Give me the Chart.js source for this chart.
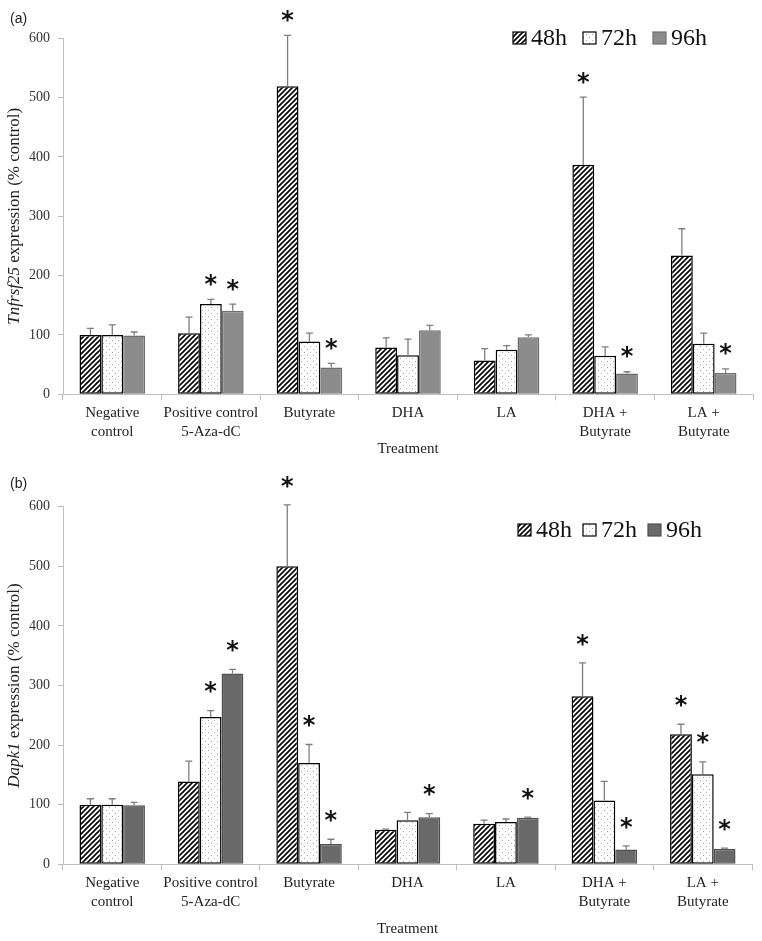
<!DOCTYPE html>
<html>
<head>
<meta charset="utf-8">
<script src="https://cdn.jsdelivr.net/npm/chart.js@4.4.1/dist/chart.umd.min.js"></script>
<style>
  html, body { margin: 0; padding: 0; background: #fff; }
  .panel { position: relative; width: 762px; }
  #wrapA { height: 470px; }
  #wrapB { height: 471px; }
</style>
</head>
<body>
<div class="panel" id="wrapA"><canvas id="chartA"></canvas></div>
<div class="panel" id="wrapB"><canvas id="chartB"></canvas></div>
<script>
// categories and series
const treatments = [['Negative', 'control'], ['Positive control', '5-Aza-dC'], 'Butyrate', 'DHA', 'LA', ['DHA +', 'Butyrate'], ['LA +', 'Butyrate']];
const timePoints = ['48h', '72h', '96h'];
const yTicks = [0, 100, 200, 300, 400, 500, 600];

// (a) Tnfrsf25 expression (% control), mean and upper error
const tnf48 = [100, 103, 519, 79, 57, 387, 234];
const tnf48Err = [11, 27, 86, 16, 20, 114, 45];
const tnf72 = [100, 152, 89, 66, 75, 65, 85];
const tnf72Err = [17, 8, 14, 27, 7, 15, 18];
const tnf96 = [99, 141, 45, 108, 96, 35, 36];
const tnf96Err = [6, 11, 7, 8, 4, 3, 7];
const tnf48Star = [0, 0, 1, 0, 0, 1, 0];
const tnf72Star = [0, 1, 0, 0, 0, 0, 0];
const tnf96Star = [0, 1, 1, 0, 0, 1, 1];

// (b) Dapk1 expression (% control)
const dapk48 = [100, 139, 500, 58, 68, 282, 218];
const dapk48Err = [10, 34, 103, 1, 6, 56, 17];
const dapk72 = [100, 247, 170, 74, 71, 107, 151];
const dapk72Err = [10, 11, 31, 13, 5, 32, 21];
const dapk96 = [99, 320, 34, 79, 78, 25, 26];
const dapk96Err = [5, 7, 8, 6, 1, 6, 1];
const dapk48Star = [0, 0, 1, 0, 0, 1, 1];
const dapk72Star = [0, 1, 1, 0, 0, 0, 1];
const dapk96Star = [0, 1, 1, 1, 1, 1, 1];

// fill patterns
function hatchPattern() {
    const c = document.createElement('canvas');
    c.width = 5; c.height = 5;
    const g = c.getContext('2d');
    g.fillStyle = '#fff';
    g.fillRect(0, 0, 5, 5);
    g.strokeStyle = '#000';
    g.lineWidth = 1.6;
    g.beginPath();
    g.moveTo(-1, 6); g.lineTo(6, -1);
    g.moveTo(-1, 1); g.lineTo(1, -1);
    g.moveTo(4, 6); g.lineTo(6, 4);
    g.stroke();
    return g.createPattern(c, 'repeat');
}
function dotPattern() {
    const c = document.createElement('canvas');
    c.width = 6; c.height = 6;
    const g = c.getContext('2d');
    g.fillStyle = '#fff';
    g.fillRect(0, 0, 6, 6);
    g.fillStyle = '#a8a8a8';
    g.fillRect(1, 1, 1, 1);
    g.fillRect(4, 4, 1, 1);
    return g.createPattern(c, 'repeat');
}

const serif = '"Liberation Serif", "Times New Roman", serif';

// error bars, asterisks, legend, axis title and panel letter
const panelExtras = {
    id: 'panelExtras',
    afterDatasetsDraw(chart, args, opts) {
        const ctx = chart.ctx;
        const yScale = chart.scales.y;
        ctx.save();
        chart.data.datasets.forEach((ds, i) => {
            const meta = chart.getDatasetMeta(i);
            meta.data.forEach((bar, j) => {
                const top = yScale.getPixelForValue(ds.data[j] + ds.errors[j]);
                ctx.strokeStyle = '#7f7f7f';
                ctx.lineWidth = 1.3;
                ctx.beginPath();
                ctx.moveTo(bar.x, bar.y);
                ctx.lineTo(bar.x, top);
                ctx.moveTo(bar.x - 3.5, top);
                ctx.lineTo(bar.x + 3.5, top);
                ctx.stroke();
                if (ds.stars[j]) {
                    ctx.fillStyle = '#111';
                    ctx.font = 'bold 24px "DejaVu Sans"';
                    ctx.textAlign = 'center';
                    ctx.textBaseline = 'alphabetic';
                    ctx.fillText('*', bar.x, top - opts.starGap + 13.7);
                }
            });
        });
        ctx.restore();
    },
    afterDraw(chart, args, opts) {
        const ctx = chart.ctx;
        const area = chart.chartArea;
        ctx.save();
        // legend
        let x = opts.legendX;
        ctx.font = '24px ' + serif;
        ctx.textBaseline = 'middle';
        ctx.textAlign = 'left';
        chart.data.datasets.forEach(ds => {
            ctx.fillStyle = ds.backgroundColor;
            ctx.fillRect(x, opts.legendY - 6, 13, 12);
            ctx.strokeStyle = ds.borderColor;
            ctx.lineWidth = 1.2;
            ctx.strokeRect(x, opts.legendY - 6, 13, 12);
            ctx.fillStyle = '#111';
            ctx.fillText(ds.label, x + 18, opts.legendY + 1);
            x += 18 + ctx.measureText(ds.label).width + opts.legendGap;
        });
        // y axis title with italic gene name
        ctx.translate(15, (area.top + area.bottom) / 2);
        ctx.rotate(-Math.PI / 2);
        ctx.fillStyle = '#222';
        ctx.font = 'italic 17px ' + serif;
        const w1 = ctx.measureText(opts.gene).width;
        ctx.font = '17px ' + serif;
        const rest = ' expression (% control)';
        const w2 = ctx.measureText(rest).width;
        const sx = -(w1 + w2) / 2;
        ctx.font = 'italic 17px ' + serif;
        ctx.fillText(opts.gene, sx, 0);
        ctx.font = '17px ' + serif;
        ctx.fillText(rest, sx + w1, 0);
        ctx.setTransform(1, 0, 0, 1, 0, 0);
        // panel letter
        ctx.font = '14px "Liberation Sans", Arial, sans-serif';
        ctx.fillStyle = '#222';
        ctx.textBaseline = 'middle';
        ctx.fillText(opts.letter, 10, opts.letterY);
        ctx.restore();
    }
};

function makeChart(id, series, errs, stars, darkGray, cfg) {
    const fills = [hatchPattern(), dotPattern(), darkGray.fill];
    const borders = ['#000', '#000', darkGray.border];
    const datasets = timePoints.map((tp, i) => ({
        label: tp,
        data: series[i],
        errors: errs[i],
        stars: stars[i],
        backgroundColor: fills[i],
        borderColor: borders[i],
        borderWidth: 1.5,
        borderSkipped: false,
        categoryPercentage: 0.665,
        barPercentage: 1.0
    }));
    return new Chart(document.getElementById(id), {
        type: 'bar',
        data: { labels: treatments, datasets: datasets },
        options: {
            responsive: true,
            maintainAspectRatio: false,
            animation: false,
            layout: { padding: { top: cfg.top, right: cfg.right, left: 0, bottom: 0 } },
            plugins: {
                legend: { display: false },
                tooltip: { enabled: false },
                panelExtras: cfg.extras
            },
            scales: {
                x: {
                    grid: { display: true, drawOnChartArea: false, offset: true, tickLength: 6, color: '#bfbfbf' },
                    border: { display: true, color: '#bfbfbf', width: 1 },
                    ticks: { font: { family: serif, size: 15, lineHeight: 1.22 }, color: '#222', padding: 4, maxRotation: 0, autoSkip: false },
                    title: { display: true, text: 'Treatment', font: { family: serif, size: 15, lineHeight: 1.2 }, color: '#222', padding: { top: 0, bottom: cfg.titlePad } },
                    afterFit(scale) { scale.height = cfg.xHeight; }
                },
                y: {
                    min: 0,
                    max: 600,
                    afterBuildTicks(scale) { scale.ticks = yTicks.map(v => ({ value: v })); },
                    grid: { display: true, drawOnChartArea: false, tickLength: 5, color: '#bfbfbf' },
                    border: { display: true, color: '#bfbfbf', width: 1 },
                    ticks: { font: { family: serif, size: 14 }, color: '#333', padding: 8 },
                    afterFit(scale) { scale.width = 63; }
                }
            }
        },
        plugins: [panelExtras]
    });
}

makeChart('chartA',
    [tnf48, tnf72, tnf96], [tnf48Err, tnf72Err, tnf96Err], [tnf48Star, tnf72Star, tnf96Star],
    { fill: '#8c8c8c', border: '#6e6e6e' },
    { top: 38.3, right: 9, xHeight: 75.7, titlePad: 11.7,
      extras: { letter: '(a)', letterY: 19, gene: 'Tnfrsf25', legendX: 513, legendY: 38, legendGap: 16, starGap: 21 } });

makeChart('chartB',
    [dapk48, dapk72, dapk96], [dapk48Err, dapk72Err, dapk96Err], [dapk48Star, dapk72Star, dapk96Star],
    { fill: '#696969', border: '#505050' },
    { top: 36.7, right: 10, xHeight: 76.7, titlePad: 2.7,
      extras: { letter: '(b)', letterY: 14, gene: 'Dapk1', legendX: 518, legendY: 60, legendGap: 11, starGap: 25 } });
</script>
</body>
</html>
